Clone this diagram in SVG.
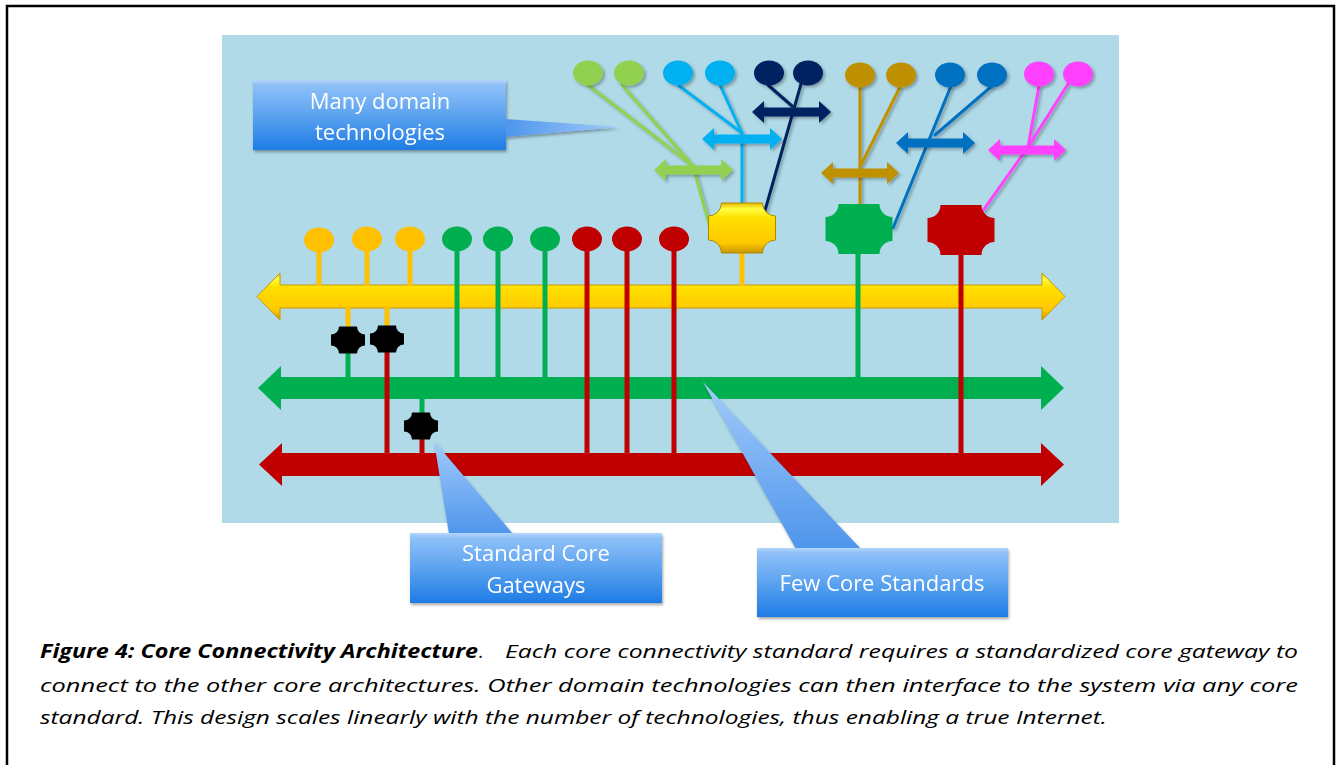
<svg xmlns="http://www.w3.org/2000/svg" xmlns:xlink="http://www.w3.org/1999/xlink" width="1340" height="765" viewBox="0 0 1340 765">
<defs>
  <linearGradient id="ygrad" x1="0" y1="0" x2="0" y2="1">
    <stop offset="0" stop-color="#E8B800"/>
    <stop offset="0.12" stop-color="#FFFF40"/>
    <stop offset="0.3" stop-color="#FFE000"/>
    <stop offset="0.8" stop-color="#FFC800"/>
    <stop offset="1" stop-color="#C89600"/>
  </linearGradient>
  <linearGradient id="boxgrad" x1="0" y1="0" x2="0" y2="1">
    <stop offset="0" stop-color="#B4D6FB"/>
    <stop offset="0.07" stop-color="#8FC0F8"/>
    <stop offset="0.5" stop-color="#5CA3F0"/>
    <stop offset="1" stop-color="#1E7CE5"/>
  </linearGradient>
  <linearGradient id="tailgrad" x1="0" y1="0" x2="0" y2="1">
    <stop offset="0" stop-color="#A3CBFA"/>
    <stop offset="1" stop-color="#4E95EC"/>
  </linearGradient>
  <linearGradient id="tailgradH" x1="1" y1="0" x2="0" y2="0">
    <stop offset="0" stop-color="#A3CBFA"/>
    <stop offset="1" stop-color="#4E95EC"/>
  </linearGradient>
  <filter id="sh" x="-20%" y="-20%" width="150%" height="160%">
    <feDropShadow dx="2" dy="2" stdDeviation="1.5" flood-color="#000" flood-opacity="0.3"/>
  </filter>
  <filter id="bsh" x="-10%" y="-10%" width="120%" height="130%">
    <feDropShadow dx="1" dy="2" stdDeviation="1.5" flood-color="#000" flood-opacity="0.35"/>
  </filter>
  <path id="gwS" d="M-9,-13.5 H9 A8,8 0 0 0 17,-5.5 V5.5 A8,8 0 0 0 9,13.5 H-9 A8,8 0 0 0 -17,5.5 V-5.5 A8,8 0 0 0 -9,-13.5 Z"/>
  <path id="gwL" d="M-20.5,-25 H20.5 A13,13 0 0 0 33.5,-12 V12 A13,13 0 0 0 20.5,25 H-20.5 A13,13 0 0 0 -33.5,12 V-12 A13,13 0 0 0 -20.5,-25 Z"/>
  <ellipse id="dot" cx="0" cy="0" rx="15" ry="12.5"/>
</defs>
<style>
  .stem { fill: none; stroke-width: 5; stroke-linecap: butt; }
  .ln { fill: none; stroke-width: 3; stroke-linecap: round; }
  .lbl { font-family: "Open Sans", "Liberation Sans", sans-serif; font-size: 22px; fill: #FFFFFF; text-anchor: middle; }
  .cap { font-family: "Open Sans", "Liberation Sans", sans-serif; font-size: 19px; font-style: italic; fill: #000000; }
</style>

<rect x="0" y="0" width="1340" height="765" fill="#FFFFFF"/>
<path d="M7,765 V6 H1334 V765" fill="none" stroke="#000000" stroke-width="2.5"/>

<rect id="panel" x="222" y="35" width="897" height="488" fill="#B0DAE8"/>

<g id="buses">
  <polygon id="bus-yellow" points="257,296.5 280,273 280,285 1042,285 1042,273 1065,296.5 1042,320 1042,308 280,308 280,320" fill="url(#ygrad)" stroke="#C89600" stroke-width="1"/>
  <polygon id="bus-green" points="258,388 281,366 281,377 1041,377 1041,366 1064,388 1041,410 1041,399 281,399 281,410" fill="#00B050"/>
  <polygon id="bus-red" points="259,464.5 282,443 282,453 1041,453 1041,443 1064,464.5 1041,486 1041,476 282,476 282,486" fill="#C00000"/>
</g>

<g id="connectors">
  <g stroke="#FFC000" class="stem">
    <line x1="319" y1="250" x2="319" y2="286"/>
    <line x1="367" y1="250" x2="367" y2="286"/>
    <line x1="410" y1="250" x2="410" y2="286"/>
    <line x1="348" y1="307" x2="348" y2="330"/>
    <line x1="387" y1="307" x2="387" y2="330"/>
    <line x1="742" y1="250" x2="742" y2="286"/>
  </g>
  <g stroke="#00B050" class="stem">
    <line x1="457" y1="250" x2="457" y2="378"/>
    <line x1="498" y1="250" x2="498" y2="378"/>
    <line x1="545" y1="250" x2="545" y2="378"/>
    <line x1="348" y1="350" x2="348" y2="378"/>
    <line x1="422" y1="398" x2="422" y2="416"/>
    <line x1="858" y1="252" x2="858" y2="378"/>
  </g>
  <g stroke="#C00000" class="stem">
    <line x1="587" y1="250" x2="587" y2="454"/>
    <line x1="627" y1="250" x2="627" y2="454"/>
    <line x1="674" y1="250" x2="674" y2="454"/>
    <line x1="387" y1="350" x2="387" y2="454"/>
    <line x1="422" y1="436" x2="422" y2="454"/>
    <line x1="961" y1="254" x2="961" y2="454"/>
  </g>
  <g class="ln" filter="url(#sh)">
    <polyline stroke="#92D050" points="588,85 693,166 709,224"/>
    <line stroke="#92D050" x1="622" y1="85" x2="693" y2="166"/>
    <polyline stroke="#00B0F0" points="678,85 742,133 742,204"/>
    <line stroke="#00B0F0" x1="720" y1="85" x2="742" y2="133"/>
    <line stroke="#002060" x1="768" y1="85" x2="792" y2="106"/>
    <line stroke="#002060" x1="801" y1="84" x2="764" y2="214"/>
    <line stroke="#BF9000" x1="860" y1="85" x2="860" y2="205"/>
    <line stroke="#BF9000" x1="900" y1="87" x2="861" y2="165"/>
    <line stroke="#0070C0" x1="951" y1="86" x2="893" y2="228"/>
    <line stroke="#0070C0" x1="992" y1="86" x2="935" y2="135"/>
    <polyline stroke="#FF40FF" points="1039,86 1028,147 982,212"/>
    <line stroke="#FF40FF" x1="1068" y1="84" x2="1028" y2="147"/>
  </g>
  <g id="domain-buses" filter="url(#sh)">
    <polygon fill="#92D050" points="654,170 666,159 666,165.5 721,165.5 721,159 733,170 721,181 721,174.5 666,174.5 666,181"/>
    <polygon fill="#00B0F0" points="702,139 714,128 714,134.5 770,134.5 770,128 782,139 770,150 770,143.5 714,143.5 714,150"/>
    <polygon fill="#002060" points="752,112 764,101 764,107.5 819,107.5 819,101 831,112 819,123 819,116.5 764,116.5 764,123"/>
    <polygon fill="#BF9000" points="821,173 833,162 833,168.5 887,168.5 887,162 899,173 887,184 887,177.5 833,177.5 833,184"/>
    <polygon fill="#0070C0" points="896,143 908,132 908,138.5 963,138.5 963,132 975,143 963,154 963,147.5 908,147.5 908,154"/>
    <polygon fill="#FF40FF" points="988,150 1000,139 1000,145.5 1054,145.5 1054,139 1066,150 1054,161 1054,154.5 1000,154.5 1000,161"/>
  </g>
</g>

<g id="core-nodes">
  <use id="n-y1" href="#dot" x="319" y="240" fill="#FFC000"/>
  <use id="n-y2" href="#dot" x="367" y="239" fill="#FFC000"/>
  <use id="n-y3" href="#dot" x="410" y="239" fill="#FFC000"/>
  <use id="n-g1" href="#dot" x="457" y="239" fill="#00B050"/>
  <use id="n-g2" href="#dot" x="498" y="239" fill="#00B050"/>
  <use id="n-g3" href="#dot" x="545" y="239" fill="#00B050"/>
  <use id="n-r1" href="#dot" x="587" y="239" fill="#C00000"/>
  <use id="n-r2" href="#dot" x="627" y="239" fill="#C00000"/>
  <use id="n-r3" href="#dot" x="674" y="239" fill="#C00000"/>
</g>

<g id="domain-nodes" filter="url(#sh)">
  <use id="d-lg1" href="#dot" x="588" y="73" fill="#92D050"/>
  <use id="d-lg2" href="#dot" x="629" y="73" fill="#92D050"/>
  <use id="d-lb1" href="#dot" x="678" y="73" fill="#00B0F0"/>
  <use id="d-lb2" href="#dot" x="720" y="73" fill="#00B0F0"/>
  <use id="d-nv1" href="#dot" x="769" y="73" fill="#002060"/>
  <use id="d-nv2" href="#dot" x="808" y="73" fill="#002060"/>
  <use id="d-go1" href="#dot" x="860" y="75" fill="#BF9000"/>
  <use id="d-go2" href="#dot" x="901" y="75" fill="#BF9000"/>
  <use id="d-bl1" href="#dot" x="950" y="75" fill="#0070C0"/>
  <use id="d-bl2" href="#dot" x="992" y="75" fill="#0070C0"/>
  <use id="d-mg1" href="#dot" x="1039" y="74" fill="#FF40FF"/>
  <use id="d-mg2" href="#dot" x="1078" y="74" fill="#FF40FF"/>
</g>

<g id="gateways">
  <use id="gw-y" href="#gwL" x="742" y="228" fill="url(#ygrad)" stroke="#B08800" stroke-width="1"/>
  <use id="gw-g" href="#gwL" x="859" y="229" fill="#00B050"/>
  <use id="gw-r" href="#gwL" x="961" y="230" fill="#C00000"/>
  <use id="gw-b1" href="#gwS" x="348" y="340" fill="#000000"/>
  <use id="gw-b2" href="#gwS" x="387" y="339" fill="#000000"/>
  <use id="gw-b3" href="#gwS" x="421" y="426" fill="#000000"/>
</g>

<g id="callout-domain" filter="url(#bsh)">
  <polygon points="505,119 505,137 620,127" fill="url(#tailgradH)"/>
  <rect x="253" y="80" width="253" height="70" fill="url(#boxgrad)"/>
  <text class="lbl" x="380" y="109">Many domain</text>
  <text class="lbl" x="380" y="140">technologies</text>
</g>

<g id="callout-gateways" filter="url(#bsh)">
  <polygon points="449,534 513,534 434,441" fill="url(#tailgrad)"/>
  <rect x="410" y="533" width="252" height="70" fill="url(#boxgrad)"/>
  <text class="lbl" x="536" y="561">Standard Core</text>
  <text class="lbl" x="536" y="593">Gateways</text>
</g>

<g id="callout-standards" filter="url(#bsh)">
  <polygon points="796,549 861,549 703,382" fill="url(#tailgrad)"/>
  <rect x="757" y="548" width="251" height="69" fill="url(#boxgrad)"/>
  <text class="lbl" x="882" y="591">Few Core Standards</text>
</g>

<g id="caption">
  <text class="cap" x="40" y="658" font-weight="bold" textLength="438" lengthAdjust="spacingAndGlyphs">Figure 4: Core Connectivity Architecture</text>
  <text class="cap" x="479" y="658">.</text>
  <text class="cap" x="505" y="658" textLength="793" lengthAdjust="spacingAndGlyphs">Each core connectivity standard requires a standardized core gateway to</text>
  <text class="cap" x="40" y="692" textLength="1258" lengthAdjust="spacingAndGlyphs">connect to the other core architectures. Other domain technologies can then interface to the system via any core</text>
  <text class="cap" x="40" y="724" textLength="1067" lengthAdjust="spacingAndGlyphs">standard. This design scales linearly with the number of technologies, thus enabling a true Internet.</text>
</g>
</svg>
